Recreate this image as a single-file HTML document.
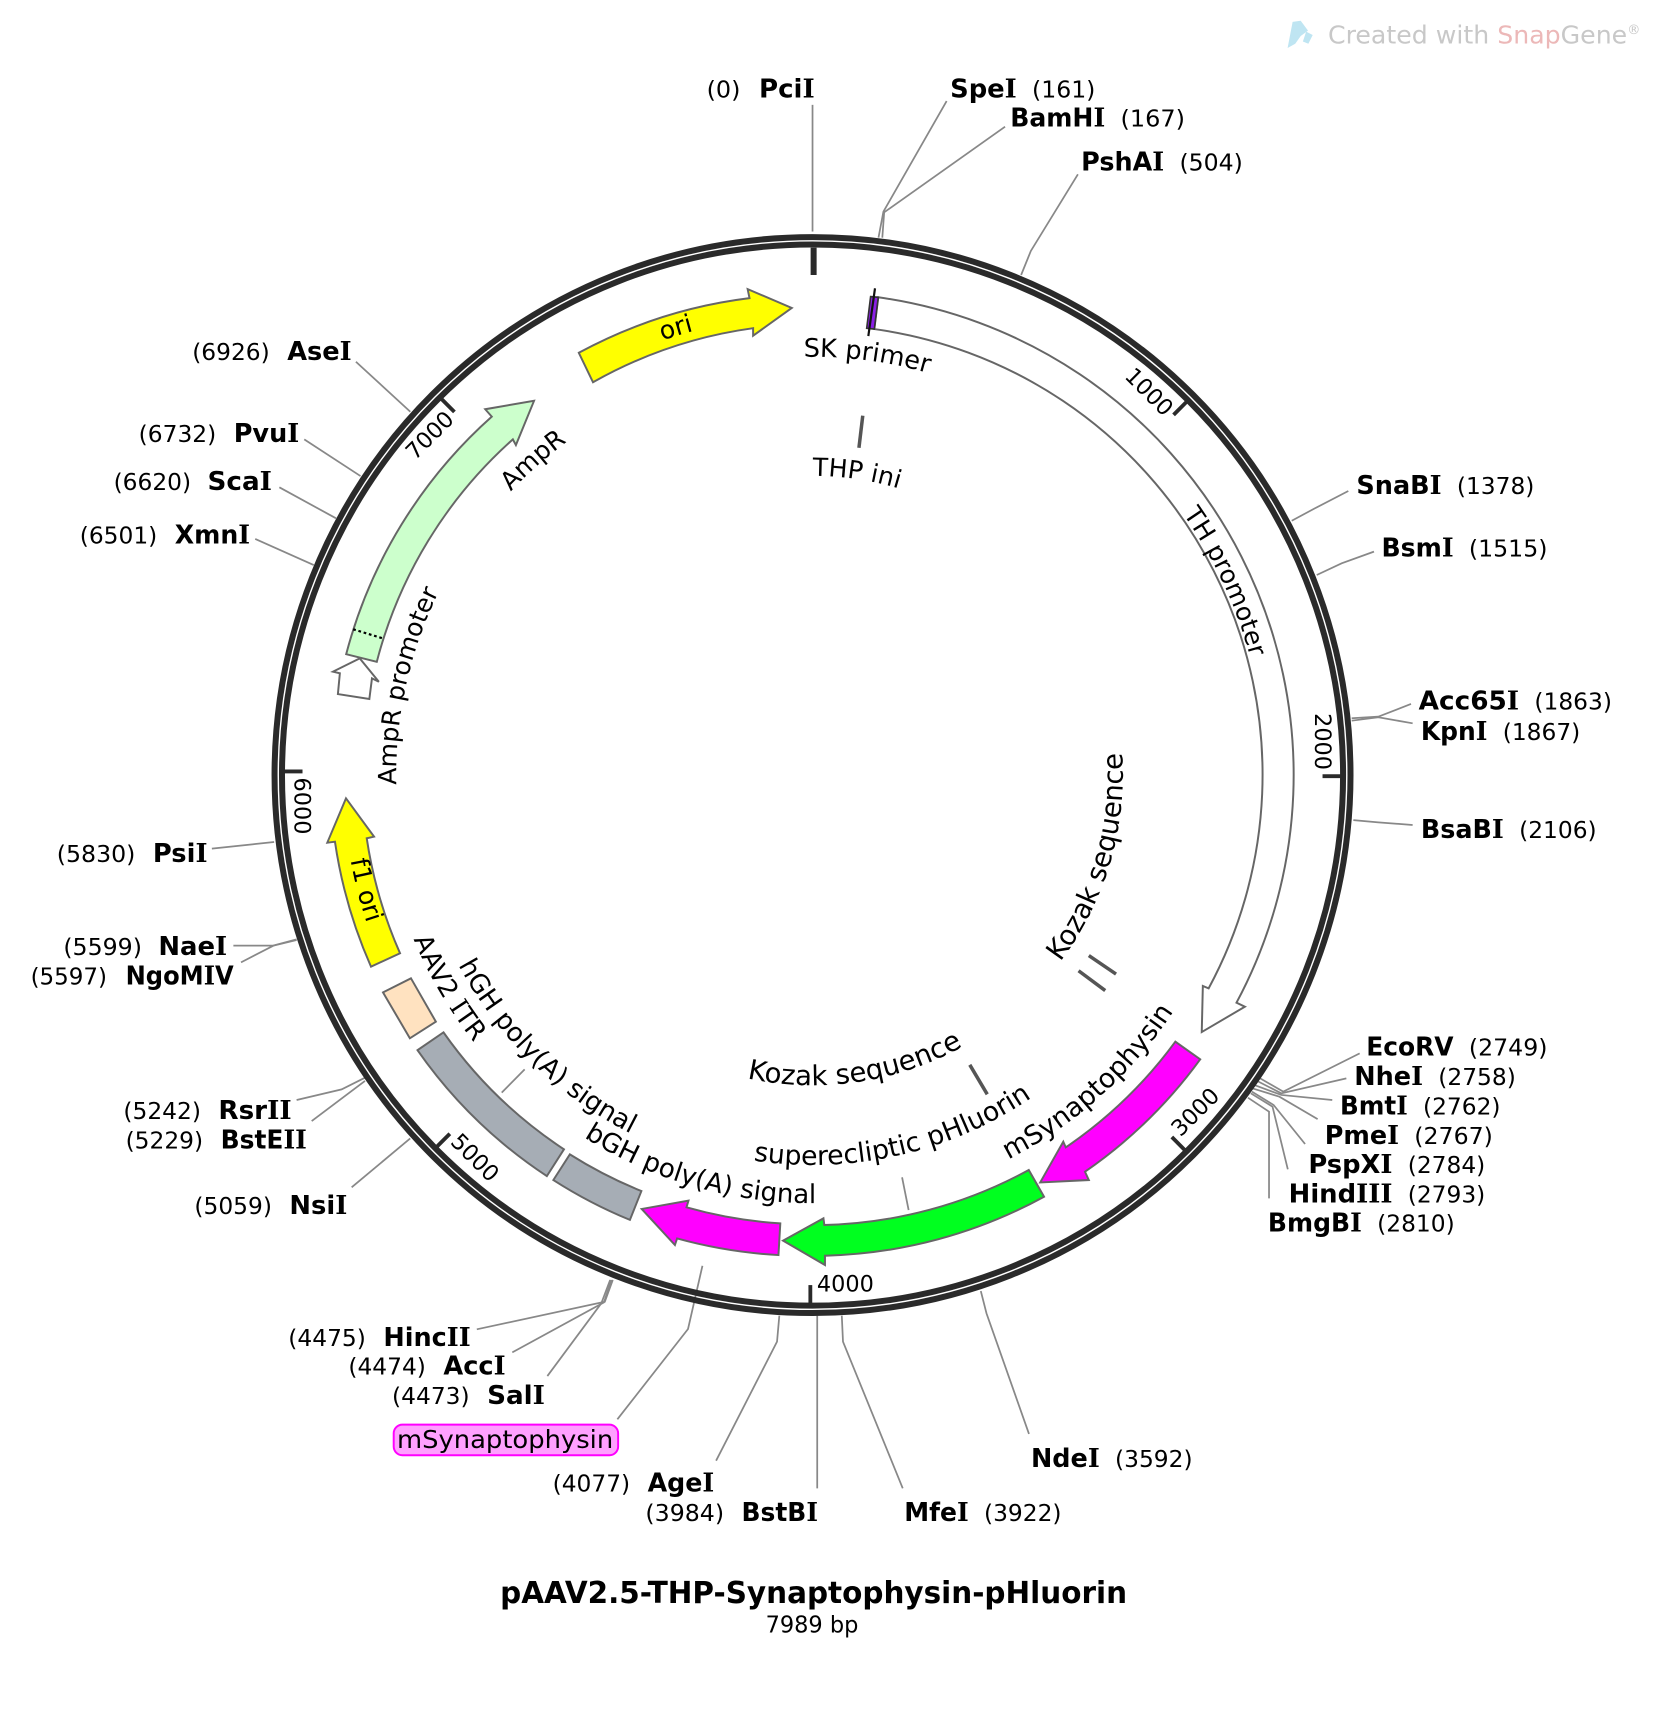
<!DOCTYPE html>
<html><head><meta charset="utf-8"><title>pAAV2.5-THP-Synaptophysin-pHluorin</title>
<style>
html,body{margin:0;padding:0;background:#fff}
svg{display:block}
text{font-family:"DejaVu Sans","Liberation Sans",sans-serif;fill:#000}
.n{font-size:21px}.b{font-size:24px;font-weight:bold}
.f{font-size:23px}.t{font-size:20.5px}
.i{font-family:"DejaVu Serif","Liberation Serif",serif}
.c{fill:none;stroke:#888;stroke-width:1.6}
.a{stroke:#666;stroke-width:1.8;stroke-linejoin:miter}
</style></head><body>
<svg xmlns="http://www.w3.org/2000/svg" width="1660" height="1712" viewBox="0 0 1520 1567.6">
<defs>
<path id="w421" d="M744,1130.7A421,421 0 1 1 744,288.7A421,421 0 1 1 744,1130.7"/>
<path id="w383" d="M744,1092.7A383,383 0 1 1 744,326.7A383,383 0 1 1 744,1092.7"/>
<path id="w274" d="M744,983.7A274,274 0 1 1 744,435.7A274,274 0 1 1 744,983.7"/>
<path id="w415" d="M744,1124.7A415,415 0 1 1 744,294.7A415,415 0 1 1 744,1124.7"/>
<path id="w379" d="M744,1088.7A379,379 0 1 1 744,330.7A379,379 0 1 1 744,1088.7"/>
<path id="w381" d="M744,1090.7A381,381 0 1 1 744,328.7A381,381 0 1 1 744,1090.7"/>
<path id="c284" d="M744,425.7A284,284 0 1 0 744,993.7A284,284 0 1 0 744,425.7"/>
<path id="c430" d="M744,279.7A430,430 0 1 0 744,1139.7A430,430 0 1 0 744,279.7"/>
<path id="c395" d="M744,314.7A395,395 0 1 0 744,1104.7A395,395 0 1 0 744,314.7"/>
<path id="c368" d="M744,341.7A368,368 0 1 0 744,1077.7A368,368 0 1 0 744,341.7"/>
<path id="c392" d="M744,317.7A392,392 0 1 0 744,1101.7A392,392 0 1 0 744,317.7"/>
<path id="c357" d="M744,352.7A357,357 0 1 0 744,1066.7A357,357 0 1 0 744,352.7"/>
</defs>

<!-- watermark -->
<path d="M1179,44L1183.6,20L1191,19L1197.7,28L1191,33L1186,40Z" fill="#bfe5f2"/>
<path d="M1202,32L1198,40L1193,38L1196,29Z" fill="#bfe5f2"/>
<text x="1216" y="40" font-size="23" textLength="286" lengthAdjust="spacingAndGlyphs" style="fill:#c8c8c8">Created with <tspan style="fill:#ecb8b8">Snap</tspan>Gene<tspan font-size="12" dy="-9">®</tspan></text>

<!-- connectors -->
<g class="c">
<path d="M744,96V212"/>
<path d="M866.8,92.5L808.9,193.8L804.4,217.6"/>
<path d="M920.3,116L809.6,194.4L807.9,217.6"/>
<path d="M987,159.6L943.9,229.8L935,251.8"/>
<path d="M325.9,331.2L375.7,377"/>
<path d="M278.6,402.3L330.1,435.9"/>
<path d="M255.8,446.2L307.7,474.6"/>
<path d="M233.7,493.5L287.3,517.4"/>
<path d="M1234.6,449.6L1204.1,465.4L1182.8,476.8"/>
<path d="M1258.1,505.1L1228.5,515.8L1205.7,526.5"/>
<path d="M1292,644.6L1262.1,656.2L1237.7,657.7"/>
<path d="M1293.5,662.3L1262.1,656.8L1237.7,659.9"/>
<path d="M1293.5,755.4L1262.1,753L1239.2,750.9"/>
<path d="M1245,964.5L1175,999.6L1153.9,987.4"/>
<path d="M1232.8,987.4L1173.2,1001.1L1151.2,989.8"/>
<path d="M1219.9,1007.2L1173.2,1002.6L1148.7,993.5"/>
<path d="M1206.5,1024.7L1171.5,1004.2L1147,996.6"/>
<path d="M1195,1047.5L1166.2,1011.8L1146.3,999.6"/>
<path d="M1179.2,1070.7L1165.2,1013.3L1145.3,1001.1"/>
<path d="M1162,1097.3V1017.9L1142.7,1005.1"/>
<path d="M436.6,1217.2L553.8,1191.9L561.1,1172"/>
<path d="M469.1,1238.3L553,1192.5L559.9,1172"/>
<path d="M501.2,1260L550.6,1193.4L558.7,1172"/>
<path d="M565.3,1299.6L630,1216.9L643.2,1159"/>
<path d="M655.7,1337.5L711.5,1228.5L713.6,1204.7"/>
<path d="M748.3,1362.8V1204.7"/>
<path d="M826.6,1362.8L771.9,1228.5L770.8,1204.7"/>
<path d="M942.2,1313L903.3,1202.6L898.1,1182.2"/>
<path d="M213.7,865.9H249.7L271.6,860.1"/>
<path d="M220.7,881.2L250.3,865.9L271.6,860.7"/>
<path d="M271.6,1007.2L312.8,997.5L334.2,986.8"/>
<path d="M285.4,1026.5L334.2,989.8"/>
<path d="M322,1087.2L375.6,1042.4"/>
<path d="M194,777L232,773L251,771"/>
<path d="M459.4,1000.5L480.4,979.2"/>
<path d="M826,1078L832,1108"/>
</g>

<!-- backbone -->
<circle cx="744" cy="709.7" r="492.6" fill="none" stroke="#2a2a2a" stroke-width="5.5"/>
<circle cx="744" cy="709.7" r="485.8" fill="none" stroke="#2a2a2a" stroke-width="5.5"/>

<!-- ticks -->
<g stroke="#2a2a2a" stroke-width="3.5" fill="none">
<path d="M745,226.8V251.8" stroke-width="5.5"/>
<path d="M1074.6,379.9L1087.3,367.1"/>
<path d="M1211,710.7H1229"/>
<path d="M1073,1041.1L1085.7,1053.9"/>
<path d="M742,1176.7V1194.7"/>
<path d="M411.9,1038.1L399.2,1050.8"/>
<path d="M277,706.4H259"/>
<path d="M416.1,377.2L403.4,364.4"/>
</g>
<g class="t" text-anchor="middle">
<text class="t" transform="translate(1052.5,358.5) rotate(45)" dy=".36em">1000</text>
<text class="t" transform="translate(1211.7,679) rotate(90)" dy=".36em">2000</text>
<text class="t" transform="translate(1094.2,1017.9) rotate(-45)" dy=".36em">3000</text>
<text class="t" x="774.1" y="1175.1" dy=".36em">4000</text>
<text class="t" transform="translate(435.2,1059.7) rotate(45)" dy=".36em">5000</text>
<text class="t" transform="translate(277,738) rotate(90)" dy=".36em">6000</text>
<text class="t" transform="translate(393.2,398.3) rotate(-45)" dy=".36em">7000</text>
</g>

<!-- features -->
<path class="a" fill="#ffff00" d="M530,323A442,442 0 0 1 686.3,273L684.6,264.7L725,282L689.6,307.4L689.6,300.5A412,412 0 0 0 543,350Z"/>
<path class="a" fill="#ccffcc" d="M317,599A441,441 0 0 1 450.3,381.5L444.3,374.7L489,367L472.4,407.5L469.6,402.3A412,412 0 0 0 345,606Z"/>
<path d="M323.4,576.2L350.4,584.5" stroke="#000" stroke-width="2" stroke-dasharray="2.5 2.5" fill="none"/>
<path class="a" fill="#fff" d="M329.4,602.8L304.9,615L311.2,616.5L309.4,635.5L338.2,640L340.6,621.1L346.9,624.2Z"/>
<path class="a" fill="#fff" d="M804.2,272.2A441.6,441.6 0 0 1 1132.2,918.1L1139.9,921.8L1100.4,945L1101.4,902.8L1106.7,905A412,412 0 0 0 800.6,301.3Z"/>
<path fill="#8a1fe6" stroke="#333" stroke-width="1.5" d="M797.2,271.6L804.2,272.2L800.6,301.3L793.6,300.6Z"/>
<path d="M801.2,264L795.1,307.7" stroke="#111" stroke-width="2" fill="none"/>
<path class="a" fill="#ff00ff" stroke="#555" d="M1099,970A440,440 0 0 1 993.5,1072.9L997,1080.5L952.5,1082.7L973.6,1045.4L975.9,1050.6A412,412 0 0 0 1076.2,953.8Z"/>
<path class="a" fill="#00ff1f" d="M956,1095.8A440,440 0 0 1 755.4,1149.8L755.4,1158.3L717,1136L754,1115.6L754.8,1121.7A412,412 0 0 0 942,1071.3Z"/>
<path class="a" fill="#ff00ff" d="M712.8,1149.2A440,440 0 0 1 620,1134L618,1140L587.6,1107L630.4,1099.4L628.6,1105.5A412,412 0 0 0 714.5,1120.2Z"/>
<path class="a" fill="#a6adb5" d="M587.3,1090.6L576.8,1117A440,440 0 0 1 506.7,1080.5L521.8,1057A412,412 0 0 0 587.3,1090.6Z"/>
<path class="a" fill="#a6adb5" d="M516.4,1052.4L500.7,1076.9A440,440 0 0 1 382.3,961.6L406.1,945.3A412,412 0 0 0 516.4,1052.4Z"/>
<path class="a" fill="#ffe2c0" d="M376.3,895.8L399.1,935.5L375.3,950.7L350.7,908.7Z"/>
<path class="a" fill="#ffff00" d="M339.7,885.1A441,441 0 0 1 306.7,770.7L299.7,771.6L316.8,731L342.5,766.1L335.8,767.6A412,412 0 0 0 366.3,872.9Z"/>

<!-- small markers -->
<g stroke="#555" stroke-width="3.2" fill="none">
<path d="M790,380.6L786.5,410"/>
<path d="M997,875L1021.9,891.9"/>
<path d="M987.6,888.9L1012,907"/>
<path d="M888,975L904,1002"/>
</g>

<!-- feature labels -->
<g class="f" text-anchor="middle">
<text class="f"><textPath href="#w421" startOffset="1197.7">ori</textPath></text>
<text class="f" font-size="23.4" style="font-size:23.4px"><textPath href="#w383" startOffset="1252.7">SK primer</textPath></text>
<text class="f"><textPath href="#w274" startOffset="900.5">THP ini</textPath></text>
<text class="f"><textPath href="#w415" startOffset="1773.1">TH promoter</textPath></text>
<text class="f"><textPath href="#w379" startOffset="915.5">AmpR</textPath></text>
<text class="f"><textPath href="#w381" startOffset="680.9">AmpR promoter</textPath></text>
<text class="f" style="font-size:25.3px"><textPath href="#c284" startOffset="1256.6">Kozak sequence</textPath></text>
<text class="f"><textPath href="#c430" startOffset="783.5">f1 ori</textPath></text>
<text class="f" style="font-size:23.5px"><textPath href="#c395" startOffset="829.3">AAV2 <tspan class="i">I</tspan>TR</textPath></text>
<text class="f" style="font-size:24px"><textPath href="#c368" startOffset="871">hGH poly(A) signal</textPath></text>
<text class="f" style="font-size:24px"><textPath href="#c392" startOffset="1122.7">bGH poly(A) signal</textPath></text>
<text class="f" style="font-size:24.5px"><textPath href="#c357" startOffset="1200.7">superecliptic pHluorin</textPath></text>
<text class="f" style="font-size:24.5px"><textPath href="#c395" startOffset="1529.1">mSynaptophysin</textPath></text>
<text class="f" style="font-size:25.3px"><textPath href="#c284" startOffset="933.8">Kozak sequence</textPath></text>
</g>

<!-- site labels -->
<text class="n" x="647" y="89.5" textLength="31" lengthAdjust="spacingAndGlyphs">(0)</text><text class="b" x="695" y="89.5" textLength="51" lengthAdjust="spacingAndGlyphs">Pci<tspan class="i">I</tspan></text>
<text class="b" x="870" y="89.5" textLength="61" lengthAdjust="spacingAndGlyphs">Spe<tspan class="i">I</tspan></text><text class="n" x="945" y="89.5" textLength="58" lengthAdjust="spacingAndGlyphs">(161)</text>
<text class="b" x="925" y="116" textLength="87" lengthAdjust="spacingAndGlyphs">BamH<tspan class="i">I</tspan></text><text class="n" x="1026" y="116" textLength="59" lengthAdjust="spacingAndGlyphs">(167)</text>
<text class="b" x="990" y="156" textLength="76" lengthAdjust="spacingAndGlyphs">PshA<tspan class="i">I</tspan></text><text class="n" x="1080" y="156" textLength="58" lengthAdjust="spacingAndGlyphs">(504)</text>
<text class="b" x="1242" y="452.5" textLength="78" lengthAdjust="spacingAndGlyphs">SnaB<tspan class="i">I</tspan></text><text class="n" x="1334" y="452.5" textLength="71" lengthAdjust="spacingAndGlyphs">(1378)</text>
<text class="b" x="1265" y="509.5" textLength="66" lengthAdjust="spacingAndGlyphs">Bsm<tspan class="i">I</tspan></text><text class="n" x="1345" y="509.5" textLength="72" lengthAdjust="spacingAndGlyphs">(1515)</text>
<text class="b" x="1299" y="649.5" textLength="92" lengthAdjust="spacingAndGlyphs">Acc65<tspan class="i">I</tspan></text><text class="n" x="1405" y="649.5" textLength="71" lengthAdjust="spacingAndGlyphs">(1863)</text>
<text class="b" x="1301" y="677.5" textLength="61" lengthAdjust="spacingAndGlyphs">Kpn<tspan class="i">I</tspan></text><text class="n" x="1376" y="677.5" textLength="71" lengthAdjust="spacingAndGlyphs">(1867)</text>
<text class="b" x="1301" y="767.5" textLength="76" lengthAdjust="spacingAndGlyphs">BsaB<tspan class="i">I</tspan></text><text class="n" x="1391" y="767.5" textLength="71" lengthAdjust="spacingAndGlyphs">(2106)</text>
<text class="b" x="1251" y="966.5" textLength="80" lengthAdjust="spacingAndGlyphs">EcoRV</text><text class="n" x="1345" y="966.5" textLength="72" lengthAdjust="spacingAndGlyphs">(2749)</text>
<text class="b" x="1240" y="993.5" textLength="63" lengthAdjust="spacingAndGlyphs">Nhe<tspan class="i">I</tspan></text><text class="n" x="1317" y="993.5" textLength="71" lengthAdjust="spacingAndGlyphs">(2758)</text>
<text class="b" x="1227" y="1020.5" textLength="62" lengthAdjust="spacingAndGlyphs">Bmt<tspan class="i">I</tspan></text><text class="n" x="1303" y="1020.5" textLength="71" lengthAdjust="spacingAndGlyphs">(2762)</text>
<text class="b" x="1213" y="1047.5" textLength="68" lengthAdjust="spacingAndGlyphs">Pme<tspan class="i">I</tspan></text><text class="n" x="1295" y="1047.5" textLength="72" lengthAdjust="spacingAndGlyphs">(2767)</text>
<text class="b" x="1198" y="1074" textLength="77" lengthAdjust="spacingAndGlyphs">PspX<tspan class="i">I</tspan></text><text class="n" x="1289" y="1074" textLength="71" lengthAdjust="spacingAndGlyphs">(2784)</text>
<text class="b" x="1180" y="1101" textLength="95" lengthAdjust="spacingAndGlyphs">Hind<tspan class="i">III</tspan></text><text class="n" x="1289" y="1101" textLength="71" lengthAdjust="spacingAndGlyphs">(2793)</text>
<text class="b" x="1161" y="1127.5" textLength="86" lengthAdjust="spacingAndGlyphs">BmgB<tspan class="i">I</tspan></text><text class="n" x="1261" y="1127.5" textLength="71" lengthAdjust="spacingAndGlyphs">(2810)</text>
<text class="b" x="944" y="1343.5" textLength="63" lengthAdjust="spacingAndGlyphs">Nde<tspan class="i">I</tspan></text><text class="n" x="1021" y="1343.5" textLength="71" lengthAdjust="spacingAndGlyphs">(3592)</text>
<text class="b" x="828" y="1392.5" textLength="59" lengthAdjust="spacingAndGlyphs">Mfe<tspan class="i">I</tspan></text><text class="n" x="901" y="1392.5" textLength="71" lengthAdjust="spacingAndGlyphs">(3922)</text>
<text class="n" x="591" y="1392.5" textLength="72" lengthAdjust="spacingAndGlyphs">(3984)</text><text class="b" x="679" y="1392.5" textLength="70" lengthAdjust="spacingAndGlyphs">BstB<tspan class="i">I</tspan></text>
<text class="n" x="506" y="1365.5" textLength="71" lengthAdjust="spacingAndGlyphs">(4077)</text><text class="b" x="593" y="1365.5" textLength="61" lengthAdjust="spacingAndGlyphs">Age<tspan class="i">I</tspan></text>
<text class="n" x="359" y="1285.5" textLength="71" lengthAdjust="spacingAndGlyphs">(4473)</text><text class="b" x="446" y="1285.5" textLength="53" lengthAdjust="spacingAndGlyphs">Sal<tspan class="i">I</tspan></text>
<text class="n" x="319" y="1258.5" textLength="71" lengthAdjust="spacingAndGlyphs">(4474)</text><text class="b" x="406" y="1258.5" textLength="57" lengthAdjust="spacingAndGlyphs">Acc<tspan class="i">I</tspan></text>
<text class="n" x="264" y="1232.5" textLength="71" lengthAdjust="spacingAndGlyphs">(4475)</text><text class="b" x="351" y="1232.5" textLength="80" lengthAdjust="spacingAndGlyphs">Hinc<tspan class="i">II</tspan></text>
<text class="n" x="178" y="1111.5" textLength="71" lengthAdjust="spacingAndGlyphs">(5059)</text><text class="b" x="265" y="1111.5" textLength="53" lengthAdjust="spacingAndGlyphs">Nsi<tspan class="i">I</tspan></text>
<text class="n" x="115" y="1051.5" textLength="71" lengthAdjust="spacingAndGlyphs">(5229)</text><text class="b" x="202" y="1051.5" textLength="79" lengthAdjust="spacingAndGlyphs">BstE<tspan class="i">II</tspan></text>
<text class="n" x="113" y="1024.5" textLength="71" lengthAdjust="spacingAndGlyphs">(5242)</text><text class="b" x="200" y="1024.5" textLength="67" lengthAdjust="spacingAndGlyphs">Rsr<tspan class="i">II</tspan></text>
<text class="n" x="28" y="901.5" textLength="70" lengthAdjust="spacingAndGlyphs">(5597)</text><text class="b" x="115" y="901.5" textLength="99" lengthAdjust="spacingAndGlyphs">NgoM<tspan class="i">I</tspan>V</text>
<text class="n" x="58" y="874.5" textLength="72" lengthAdjust="spacingAndGlyphs">(5599)</text><text class="b" x="145" y="874.5" textLength="63" lengthAdjust="spacingAndGlyphs">Nae<tspan class="i">I</tspan></text>
<text class="n" x="52" y="789.5" textLength="72" lengthAdjust="spacingAndGlyphs">(5830)</text><text class="b" x="140" y="789.5" textLength="50" lengthAdjust="spacingAndGlyphs">Psi<tspan class="i">I</tspan></text>
<text class="n" x="73" y="497.5" textLength="71" lengthAdjust="spacingAndGlyphs">(6501)</text><text class="b" x="160" y="497.5" textLength="69" lengthAdjust="spacingAndGlyphs">Xmn<tspan class="i">I</tspan></text>
<text class="n" x="104" y="448.5" textLength="71" lengthAdjust="spacingAndGlyphs">(6620)</text><text class="b" x="190" y="448.5" textLength="59" lengthAdjust="spacingAndGlyphs">Sca<tspan class="i">I</tspan></text>
<text class="n" x="127" y="404.5" textLength="71" lengthAdjust="spacingAndGlyphs">(6732)</text><text class="b" x="214" y="404.5" textLength="60" lengthAdjust="spacingAndGlyphs">Pvu<tspan class="i">I</tspan></text>
<text class="n" x="176" y="329.5" textLength="71" lengthAdjust="spacingAndGlyphs">(6926)</text><text class="b" x="263" y="329.5" textLength="59" lengthAdjust="spacingAndGlyphs">Ase<tspan class="i">I</tspan></text>

<!-- highlighted feature -->
<rect x="360.5" y="1304.5" width="205.5" height="28" rx="8" fill="#ffa0ff" stroke="#ff00ff" stroke-width="1.8"/>
<text class="f" x="363.5" y="1326" textLength="198" lengthAdjust="spacingAndGlyphs">mSynaptophysin</text>

<!-- title -->
<text x="458" y="1468" font-size="28" font-weight="bold" textLength="574" lengthAdjust="spacingAndGlyphs">pAAV2.5-THP-Synaptophysin-pHluorin</text>
<text x="701" y="1495" font-size="21" textLength="85" lengthAdjust="spacingAndGlyphs">7989 bp</text>
</svg>
</body></html>
